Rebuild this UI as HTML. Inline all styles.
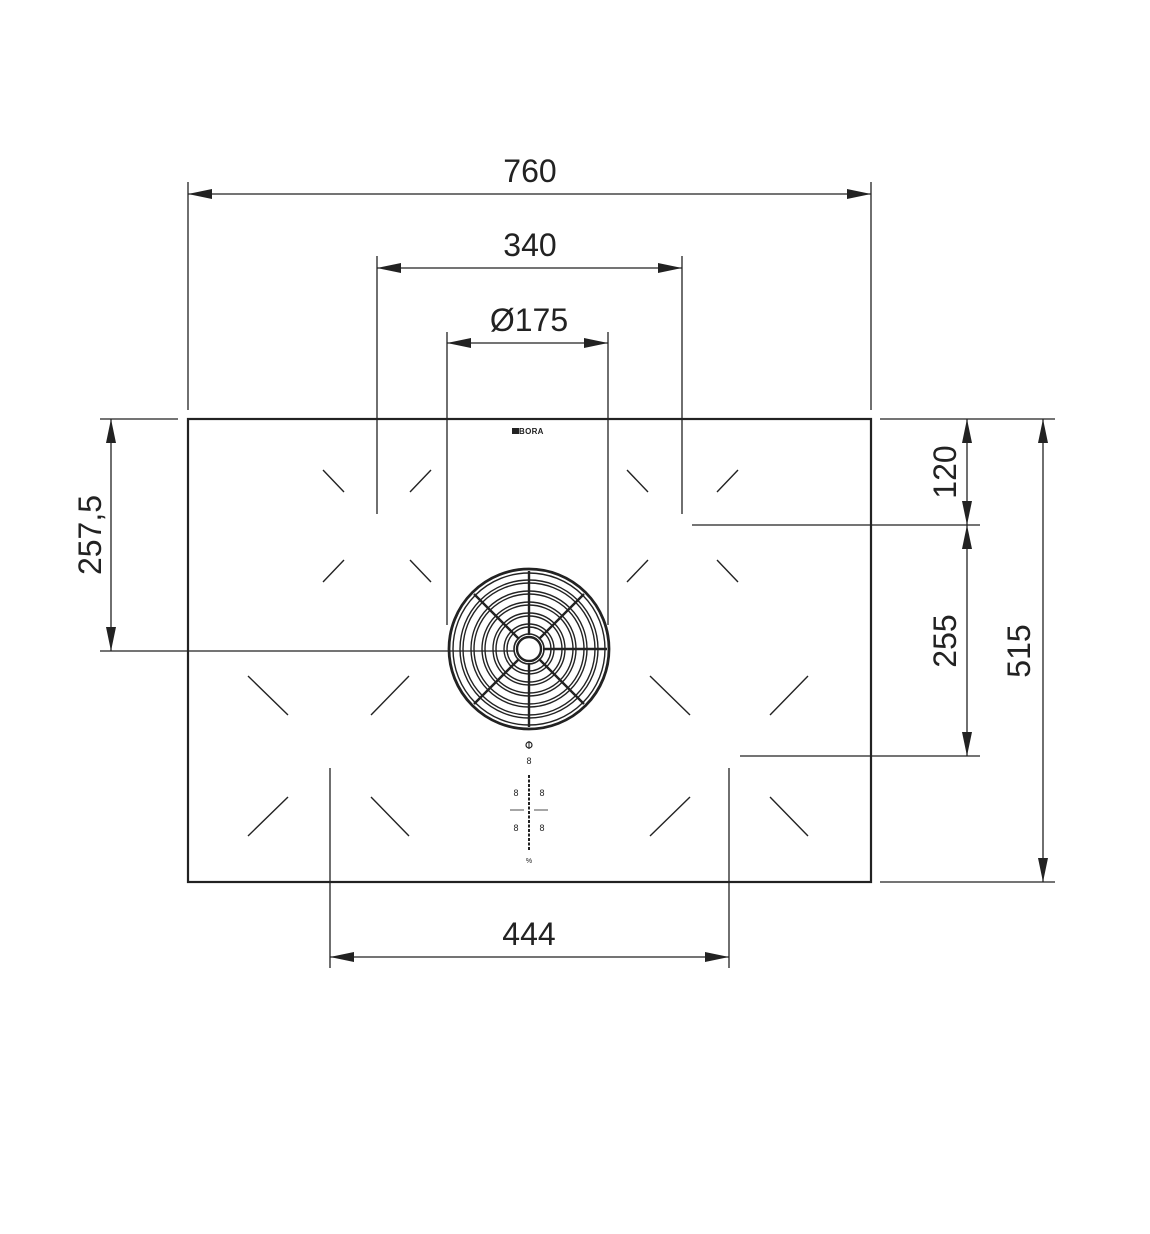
<!DOCTYPE html>
<html><head><meta charset="utf-8"><style>
html,body{margin:0;padding:0;background:#fff;}
svg{display:block;}
text{font-family:"Liberation Sans",sans-serif;fill:#222;}
</style></head><body>
<svg width="1150" height="1234" viewBox="0 0 1150 1234" xmlns="http://www.w3.org/2000/svg">
<defs>
<marker id="a" viewBox="0 0 24 10" refX="24" refY="5" markerWidth="24" markerHeight="10" markerUnits="userSpaceOnUse" orient="auto-start-reverse"><path d="M0,0 L24,5 L0,10 Z" fill="#222"/></marker>
</defs>
<g stroke="#222" stroke-width="1.3" fill="none">
<rect x="188" y="419" width="683" height="463" stroke-width="2.2"/>
<line x1="188" y1="182" x2="188" y2="410"/>
<line x1="871" y1="182" x2="871" y2="410"/>
<line x1="377" y1="256" x2="377" y2="514"/>
<line x1="682" y1="256" x2="682" y2="514"/>
<line x1="447" y1="332" x2="447" y2="625"/>
<line x1="608" y1="332" x2="608" y2="625"/>
<line x1="330" y1="768" x2="330" y2="968"/>
<line x1="729" y1="768" x2="729" y2="968"/>
<line x1="100" y1="419" x2="178" y2="419"/>
<line x1="100" y1="651" x2="515" y2="651"/>
<line x1="880" y1="419" x2="1055" y2="419"/>
<line x1="692" y1="525" x2="980" y2="525"/>
<line x1="740" y1="756" x2="980" y2="756"/>
<line x1="880" y1="882" x2="1055" y2="882"/>
<line x1="188" y1="194" x2="871" y2="194" marker-start="url(#a)" marker-end="url(#a)"/>
<line x1="377" y1="268" x2="682" y2="268" marker-start="url(#a)" marker-end="url(#a)"/>
<line x1="447" y1="343" x2="608" y2="343" marker-start="url(#a)" marker-end="url(#a)"/>
<line x1="330" y1="957" x2="729" y2="957" marker-start="url(#a)" marker-end="url(#a)"/>
<line x1="111" y1="419" x2="111" y2="651" marker-start="url(#a)" marker-end="url(#a)"/>
<line x1="967" y1="419" x2="967" y2="525" marker-start="url(#a)" marker-end="url(#a)"/>
<line x1="967" y1="525" x2="967" y2="756" marker-start="url(#a)" marker-end="url(#a)"/>
<line x1="1043" y1="419" x2="1043" y2="882" marker-start="url(#a)" marker-end="url(#a)"/>
<g stroke-width="1.4">
<line x1="323" y1="470" x2="344" y2="492"/><line x1="431" y1="470" x2="410" y2="492"/>
<line x1="323" y1="582" x2="344" y2="560"/><line x1="431" y1="582" x2="410" y2="560"/>
<line x1="627" y1="470" x2="648" y2="492"/><line x1="738" y1="470" x2="717" y2="492"/>
<line x1="627" y1="582" x2="648" y2="560"/><line x1="738" y1="582" x2="717" y2="560"/>
<line x1="248" y1="676" x2="288" y2="715"/><line x1="409" y1="676" x2="371" y2="715"/>
<line x1="248" y1="836" x2="288" y2="797"/><line x1="409" y1="836" x2="371" y2="797"/>
<line x1="650" y1="676" x2="690" y2="715"/><line x1="808" y1="676" x2="770" y2="715"/>
<line x1="650" y1="836" x2="690" y2="797"/><line x1="808" y1="836" x2="770" y2="797"/>
</g>
<g transform="translate(529,649)">
<circle r="80" stroke-width="2.8"/>
<circle r="76" stroke-width="1.4"/>
<circle r="69" stroke-width="1.4"/>
<circle r="66" stroke-width="1.4"/>
<circle r="58" stroke-width="1.4"/>
<circle r="55" stroke-width="1.4"/>
<circle r="47" stroke-width="1.4"/>
<circle r="44" stroke-width="1.4"/>
<circle r="36" stroke-width="1.4"/>
<circle r="33" stroke-width="1.4"/>
<circle r="25" stroke-width="1.4"/>
<circle r="22" stroke-width="1.4"/>
<g stroke-width="2.4">
<line x1="0" y1="-14" x2="0" y2="-78"/>
<line x1="0" y1="14" x2="0" y2="78"/>
<line x1="14" y1="0" x2="78" y2="0"/>
<line x1="10" y1="-10" x2="55" y2="-55"/>
<line x1="-10" y1="-10" x2="-55" y2="-55"/>
<line x1="10" y1="10" x2="55" y2="55"/>
<line x1="-10" y1="10" x2="-55" y2="55"/>
</g>
<circle r="15" stroke-width="1.6"/>
<circle r="12" stroke-width="2.4"/>
</g>
<line x1="529" y1="775" x2="529" y2="850" stroke-width="2" stroke-dasharray="3,1.5"/>
<line x1="510" y1="810" x2="524" y2="810" stroke-width="0.8"/>
<line x1="534" y1="810" x2="548" y2="810" stroke-width="0.8"/>
<circle cx="529" cy="745" r="3" stroke-width="1.2"/>
<line x1="529" y1="741" x2="529" y2="749" stroke-width="1"/>
</g>
<g font-size="9" text-anchor="middle">
<text x="529" y="764">8</text>
<text x="516" y="796">8</text><text x="542" y="796">8</text>
<text x="516" y="831">8</text><text x="542" y="831">8</text>
<text x="529" y="863" font-size="7">%</text>
</g>
<rect x="512" y="428" width="7" height="6" fill="#222"/>
<text x="519" y="434" font-size="8" font-weight="bold" letter-spacing="0.3">BORA</text>
<g font-size="32" text-anchor="middle">
<text x="530" y="182">760</text>
<text x="530" y="256">340</text>
<text x="529" y="331">Ø175</text>
<text x="529" y="945">444</text>
<text transform="translate(101,535) rotate(-90)">257,5</text>
<text transform="translate(956,472) rotate(-90)">120</text>
<text transform="translate(956,641) rotate(-90)">255</text>
<text transform="translate(1030,651) rotate(-90)">515</text>
</g>
</svg>
</body></html>
